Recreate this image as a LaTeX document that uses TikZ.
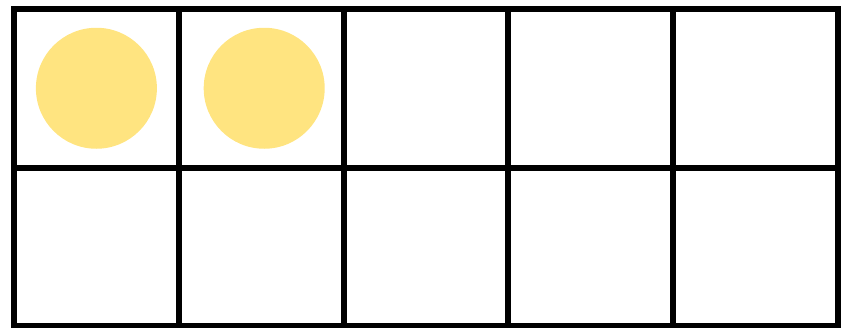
\documentclass[tikz,border=0pt]{standalone}
\usepackage{xcolor}
\usepackage{tikz}
\definecolor{dotyellow}{HTML}{FFE480}

\tikzset{
  cellbox/.style={draw=black, line width=6pt, minimum width=164.8pt, minimum height=158.5pt, inner sep=0pt},
  counter/.style={circle, fill=dotyellow, minimum size=121pt, inner sep=0pt}
}

\begin{document}
\begin{tikzpicture}[x=1pt, y=-1pt]
\useasboundingbox (0,0) rectangle (849,327);
% ten frame
\foreach \r in {1,2}{
  \foreach \c in {1,...,5}{
    \node[cellbox] (cell-\r-\c) at ({14+164.8*(\c-0.5)},{9+158.5*(\r-0.5)}) {};
  }
}
% counters
\node[counter] (dot-1) at (cell-1-1.center) {};
\node[counter, xshift=3pt] (dot-2) at (cell-1-2.center) {};
\end{tikzpicture}
\end{document}
